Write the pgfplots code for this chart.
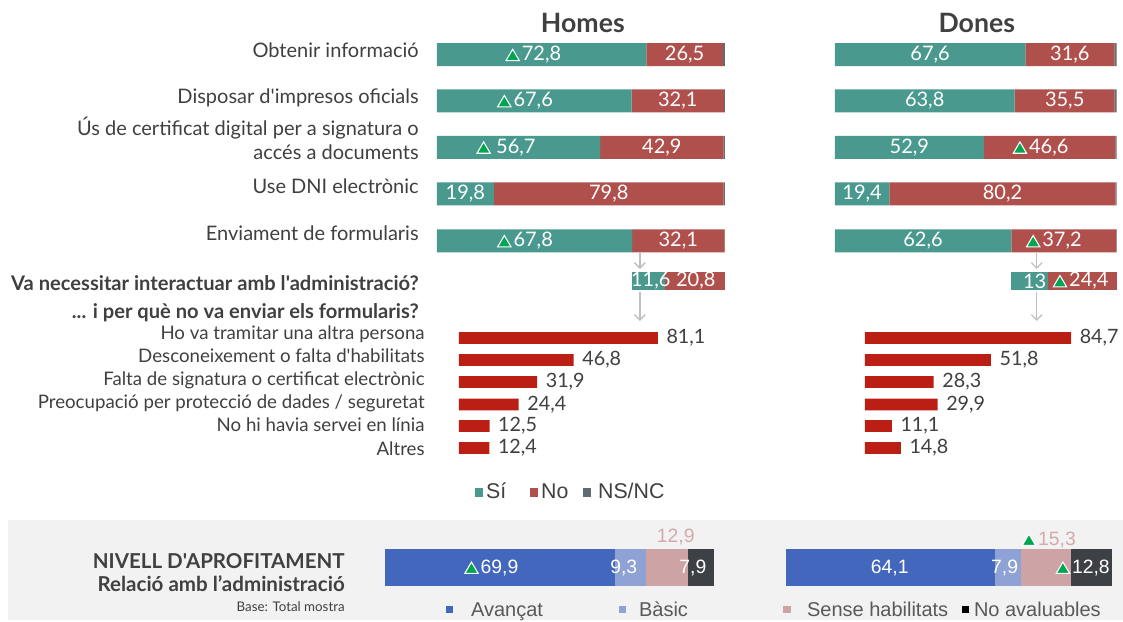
\documentclass[border=0pt]{standalone}
\usepackage{pgfplots}
\pgfplotsset{compat=1.18}
\usepackage{pgfplotstable}
\usepackage{fontspec}
\setmainfont{Lato}[Ligatures=TeXOff]
\newfontfamily\arial{Liberation Sans}
\usetikzlibrary{arrows.meta}

\definecolor{cSi}{HTML}{4A998E}
\definecolor{cNo}{HTML}{B0504D}
\definecolor{cNS}{HTML}{606C73}
\definecolor{cRe}{HTML}{BB1E12}
\definecolor{cAv}{HTML}{4467BE}
\definecolor{cBa}{HTML}{8EA2D6}
\definecolor{cSe}{HTML}{CDA3A6}
\definecolor{cNA}{HTML}{3D4145}
\definecolor{txt}{HTML}{404040}
\definecolor{legt}{HTML}{595959}
\definecolor{triG}{HTML}{00A550}
\definecolor{bgG}{HTML}{F2F2F2}
\definecolor{arr}{HTML}{BFBFBF}
\definecolor{pinkT}{HTML}{D4A9AB}

\newcommand{\tri}{\tikz[baseline=0pt]\filldraw[draw=white,fill=triG,line width=0.8pt] (0pt,0pt)--(10pt,0pt)--(5pt,8.5pt)--cycle;\kern1.5pt}

\pgfplotstableread{
y si no ns
54.7 72.8 26.5 0.7
101 67.6 32.1 0.3
147.5 56.7 42.9 0.4
194 19.8 79.8 0.4
241 67.8 32.1 0.1
}\homesTop
\pgfplotstableread{
y si no ns
54.7 67.6 31.6 0.8
101 63.8 35.5 0.7
147.5 52.9 46.6 0.5
194 19.4 80.2 0.4
241 62.6 37.2 0.2
}\donesTop
\pgfplotstableread{
y x lab
338 81.1 81,1
360 46.8 46,8
382 31.9 31,9
404.5 24.4 24,4
426 12.5 12,5
448 12.4 12,4
}\homesRe
\pgfplotstableread{
y x lab
338 84.7 84,7
360 51.8 51,8
382 28.3 28,3
404.5 29.9 29,9
426 11.1 11,1
448 14.8 14,8
}\donesRe

\tikzset{
 vl/.style={font=\fontsize{15}{18}\selectfont, text=white, inner sep=0pt, anchor=center},
 bl/.style={font=\arial\fontsize{14.5}{17}\selectfont, text=white, inner sep=0pt, anchor=center},
}
\pgfplotsset{
 base/.style={scale only axis, hide axis, clip=false, xmin=0, y dir=reverse, anchor=south west},
 hb/.style={base, xbar stacked},
 gHT/.style={at={(327.75pt,-225pt)}, width=216pt, height=202.5pt, xmax=100, ymin=30, ymax=300},
 gDT/.style={at={(626.25pt,-225pt)}, width=211.5pt, height=202.5pt, xmax=100, ymin=30, ymax=300},
 gHB/.style={at={(288.75pt,-450pt)}, width=247.1pt, height=52.5pt, xmax=100, ymin=530, ymax=600},
 gDB/.style={at={(589.3pt,-450pt)}, width=245.25pt, height=52.5pt, xmax=100.1, ymin=530, ymax=600},
 rb/.style={base, xbar, xmax=100,
   ymin=320, ymax=460, bar width=8.8pt, height=105pt,
   nodes near coords, point meta=explicit symbolic,
   nodes near coords style={font=\fontsize{14.8}{18}\selectfont, text=txt, anchor=west, xshift=3pt}},
}

\begin{document}
\begin{tikzpicture}
\begin{scope}[x=0.75pt,y=-0.75pt]
\fill[white] (0,0) rectangle (1123,622);
\fill[bgG] (8,520) rectangle (1123,620);
% titles
\node[anchor=base, font=\bfseries\fontsize{20}{24}\selectfont, text=txt, inner sep=0pt] at (583,33) {Homes};
\node[anchor=base, font=\bfseries\fontsize{20}{24}\selectfont, text=txt, inner sep=0pt] at (977,33) {Dones};
% left labels
\tikzset{lab/.style={anchor=base east, font=\fontsize{15}{18}\selectfont, text=txt, inner sep=0pt},
         rlab/.style={anchor=base east, font=\fontsize{14}{17}\selectfont, text=txt, inner sep=0pt}}
\node[lab] at (419,58) {Obtenir informació};
\node[lab] at (419,104) {Disposar d'impresos oficials};
\node[lab] at (419,136) {Ús de certificat digital per a signatura o};
\node[lab] at (419,160) {accés a documents};
\node[lab] at (419,194) {Use DNI electrònic};
\node[lab] at (419,241) {Enviament de formularis};
\node[lab, font=\bfseries\fontsize{15.1}{18}\selectfont] at (419,291) {Va necessitar interactuar amb l'administració?};
\node[lab, font=\bfseries\fontsize{15.1}{18}\selectfont] at (419,319) {... i per què no va enviar els formularis?};
\node[rlab] at (425,339.5) {Ho va tramitar una altra persona};
\node[rlab] at (425,362.5) {Desconeixement o falta d'habilitats};
\node[rlab] at (425,385.5) {Falta de signatura o certificat electrònic};
\node[rlab] at (425,408.5) {Preocupació per protecció de dades / seguretat};
\node[rlab] at (425,431.5) {No hi havia servei en línia};
\node[rlab] at (425,455.5) {Altres};
% arrows
\draw[arr, line width=1pt, -{Straight Barb[length=4pt,width=8pt]}] (640,253) -- (640,269);
\draw[arr, line width=1pt, -{Straight Barb[length=4pt,width=8pt]}] (640,292) -- (640,321);
\draw[arr, line width=1pt, -{Straight Barb[length=4pt,width=8pt]}] (1037,253) -- (1037,269);
\draw[arr, line width=1pt, -{Straight Barb[length=4pt,width=8pt]}] (1037,292) -- (1037,321);
% top legend
\tikzset{lg/.style={anchor=base west, font=\arial\fontsize{16}{18}\selectfont, text=txt, inner sep=0pt}}
\fill[cSi] (475,488) rectangle (483,497); \node[lg] at (486,499) {Sí};
\fill[cNo] (530,488) rectangle (538,497); \node[lg] at (541,499) {No};
\fill[cNS] (583,488) rectangle (591,497); \node[lg] at (598,499) {NS/NC};
% bottom text
\node[anchor=base east, font=\bfseries\fontsize{15.4}{18}\selectfont, text=txt, inner sep=0pt] at (345,568.5) {NIVELL D'APROFITAMENT};
\node[anchor=base east, font=\bfseries\fontsize{15.4}{18}\selectfont, text=txt, inner sep=0pt] at (345,591.5) {Relació amb l’administració};
\node[anchor=base east, font=\fontsize{10}{12}\selectfont, text=txt, inner sep=0pt] at (345,611.5) {Base: Total mostra};
% bottom legend
\tikzset{lg2/.style={anchor=base west, font=\arial\fontsize{15}{18}\selectfont, text=legt, inner sep=0pt}}
\fill[cAv] (446,606) rectangle (453,613); \node[lg2] at (471,617) {Avançat};
\fill[cBa] (619,606) rectangle (626,613); \node[lg2] at (639,617) {Bàsic};
\fill[cSe] (783,606) rectangle (791,613); \node[lg2] at (807,617) {Sense habilitats};
\fill[black] (962,606) rectangle (969,613); \node[lg2] at (974,617) {No avaluables};
\end{scope}

% ---------- Homes top ----------
\begin{axis}[hb, gHT, bar width=17.25pt]
\addplot[fill=cSi,draw=none] table[x=si,y=y]{\homesTop};
\addplot[fill=cNo,draw=none] table[x=no,y=y]{\homesTop};
\addplot[fill=cNS,draw=none] table[x=ns,y=y]{\homesTop};
\end{axis}
\begin{axis}[hb, gHT, bar width=13.5pt]
\addplot[fill=none,draw=none] coordinates {(67.8,281)};
\addplot[fill=cSi,draw=none] coordinates {(11.6,281)};
\addplot[fill=cNo,draw=none] coordinates {(20.8,281)};
\end{axis}
\begin{axis}[base, gHT]
\node[vl] at (axis cs:33.5,54.7) {\tri72,8};
\node[vl] at (axis cs:86.05,54.7) {26,5};
\node[vl] at (axis cs:30.6,101) {\tri67,6};
\node[vl] at (axis cs:83.65,101) {32,1};
\node[vl] at (axis cs:24,147.5) {\tri\,56,7};
\node[vl] at (axis cs:78.15,147.5) {42,9};
\node[vl] at (axis cs:9.9,194) {19,8};
\node[vl] at (axis cs:59.7,194) {79,8};
\node[vl] at (axis cs:30.6,241) {\tri67,8};
\node[vl] at (axis cs:83.85,241) {32,1};
\node[vl] at (axis cs:74.3,281) {11,6};
\node[vl] at (axis cs:89.9,281) {20,8};
\end{axis}

% ---------- Dones top ----------
\begin{axis}[hb, gDT, bar width=17.25pt]
\addplot[fill=cSi,draw=none] table[x=si,y=y]{\donesTop};
\addplot[fill=cNo,draw=none] table[x=no,y=y]{\donesTop};
\addplot[fill=cNS,draw=none] table[x=ns,y=y]{\donesTop};
\end{axis}
\begin{axis}[hb, gDT, bar width=13.5pt]
\addplot[fill=none,draw=none] coordinates {(62.6,281)};
\addplot[fill=cSi,draw=none] coordinates {(13,281)};
\addplot[fill=cNo,draw=none] coordinates {(24.4,281)};
\end{axis}
\begin{axis}[base, gDT]
\node[vl] at (axis cs:33.8,54.7) {67,6};
\node[vl] at (axis cs:83.4,54.7) {31,6};
\node[vl] at (axis cs:31.9,101) {63,8};
\node[vl] at (axis cs:81.55,101) {35,5};
\node[vl] at (axis cs:26.45,147.5) {52,9};
\node[vl] at (axis cs:73,147.5) {\tri46,6};
\node[vl] at (axis cs:9.7,194) {19,4};
\node[vl] at (axis cs:59.5,194) {80,2};
\node[vl] at (axis cs:31.3,241) {62,6};
\node[vl] at (axis cs:77.7,241) {\tri37,2};
\node[vl] at (axis cs:70.9,281) {13};
\node[vl] at (axis cs:87.2,281) {\tri24,4};
\end{axis}

% ---------- reasons ----------
\begin{axis}[rb, at={(344.25pt,-345pt)}, width=184pt]
\addplot[fill=cRe,draw=none] table[x=x,y=y,meta=lab]{\homesRe};
\end{axis}
\begin{axis}[rb, at={(648.75pt,-345pt)}, width=182.7pt]
\addplot[fill=cRe,draw=none] table[x=x,y=y,meta=lab]{\donesRe};
\end{axis}

% ---------- bottom ----------
\begin{axis}[hb, gHB, bar width=27.75pt]
\addplot[fill=cAv,draw=none] coordinates {(69.9,568)};
\addplot[fill=cBa,draw=none] coordinates {(9.3,568)};
\addplot[fill=cSe,draw=none] coordinates {(12.9,568)};
\addplot[fill=cNA,draw=none] coordinates {(7.9,568)};
\end{axis}
\begin{axis}[base, gHB]
\node[bl] at (axis cs:32.3,568) {\tri69,9};
\node[bl] at (axis cs:72.5,568) {9,3};
\node[bl, text=pinkT] at (axis cs:88.3,537) {12,9};
\node[bl] at (axis cs:93.5,568) {7,9};
\end{axis}
\begin{axis}[hb, gDB, bar width=27.75pt]
\addplot[fill=cAv,draw=none] coordinates {(64.1,568)};
\addplot[fill=cBa,draw=none] coordinates {(7.9,568)};
\addplot[fill=cSe,draw=none] coordinates {(15.3,568)};
\addplot[fill=cNA,draw=none] coordinates {(12.8,568)};
\end{axis}
\begin{axis}[base, gDB]
\node[bl] at (axis cs:31.9,568) {64,1};
\node[bl] at (axis cs:67.1,568) {7,9};
\node[bl, text=pinkT] at (axis cs:80.6,540) {\tri15,3};
\node[bl] at (axis cs:91,568) {\tri12,8};
\end{axis}
\end{tikzpicture}
\end{document}
